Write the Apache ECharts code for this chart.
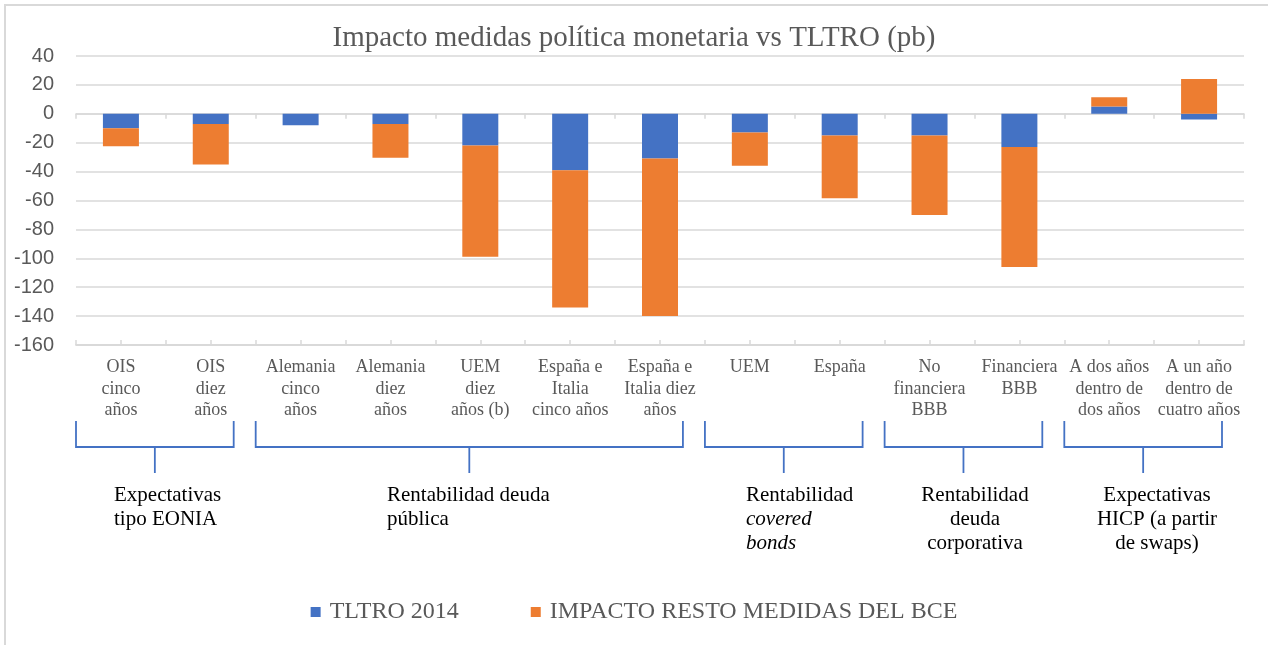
<!DOCTYPE html>
<html>
<head>
<meta charset="utf-8">
<script src="https://cdn.jsdelivr.net/npm/echarts@6/dist/echarts.min.js"></script>
<style>
  html, body { margin: 0; padding: 0; background: #fff; }
  #chart { width: 1268px; height: 645px; }
</style>
</head>
<body>
<div id="chart"></div>
<script>
  const categories = [
    'OIS\ncinco\naños', 'OIS\ndiez\naños', 'Alemania\ncinco\naños', 'Alemania\ndiez\naños',
    'UEM\ndiez\naños (b)', 'España e\nItalia\ncinco años', 'España e\nItalia diez\naños',
    'UEM', 'España', 'No\nfinanciera\nBBB', 'Financiera\nBBB',
    'A dos años\ndentro de\ndos años', 'A un año\ndentro de\ncuatro años'
  ]
  const tltro = [-10, -7, -8, -7, -22, -39, -31, -13, -15, -15, -23, 5, -4]
  const resto = [-12.5, -28, 0, -23.5, -77, -95, -109, -23, -43.5, -55, -83, 6.5, 24]

  const groupLabels = [
    'Expectativas\ntipo EONIA',
    'Rentabilidad deuda\npública',
    'Rentabilidad',
    'Rentabilidad\ndeuda\ncorporativa',
    'Expectativas\nHICP (a partir\nde swaps)'
  ]
  // italic continuation lines of a caption
  const groupLabelsItalic = ['', '', 'covered\nbonds', '', '']
  const groupStart = [0, 2, 7, 9, 11]
  const groupEnd = [1, 6, 8, 10, 12]

  // where the group captions sit (hand placed in the original)
  const captionLayout = [
    { x: 114, align: 'left' },
    { x: 387, align: 'left' },
    { x: 746, align: 'left' },
    { x: 975, align: 'center' },
    { x: 1157, align: 'center' }
  ]

  const BLUE = '#4472C4'
  const ORANGE = '#ED7D31'
  const GRID = '#d9d9d9'
  const SERIF = '"Liberation Serif", "Times New Roman", serif'
  const CAPTION_TOP = 483
  const CAPTION_LINE = 24

  const chart = echarts.init(document.getElementById('chart'))

  // extra category axes sitting on the zero line, only for the tick marks
  const zeroAxis = (inside, centered) => ({
    type: 'category',
    data: categories,
    position: 'bottom',
    axisLine: { show: true, onZero: true, lineStyle: { color: GRID, width: 1.5 } },
    axisTick: { show: true, inside: inside, alignWithLabel: centered, length: 5, lineStyle: { color: GRID, width: 1.5 } },
    axisLabel: { show: false },
    splitLine: { show: false }
  })

  const captionTitles = []
  groupLabels.forEach((label, g) => {
    const base = {
      left: captionLayout[g].x,
      padding: 0,
      textAlign: captionLayout[g].align,
      textStyle: { fontFamily: SERIF, fontSize: 21, fontWeight: 'normal', lineHeight: CAPTION_LINE, color: '#000' }
    }
    captionTitles.push(Object.assign({}, base, { text: label, top: CAPTION_TOP }))
    if (groupLabelsItalic[g]) {
      const lines = label.split('\n').length
      captionTitles.push(Object.assign({}, base, {
        text: groupLabelsItalic[g],
        top: CAPTION_TOP + lines * CAPTION_LINE,
        textStyle: Object.assign({}, base.textStyle, { fontStyle: 'italic' })
      }))
    }
  })

  chart.setOption({
    animation: false,
    title: [
      {
        text: 'Impacto medidas política monetaria vs TLTRO (pb)',
        left: 'center',
        top: 19,
        textStyle: { fontFamily: SERIF, fontSize: 29, fontWeight: 'normal', color: '#595959' }
      }
    ].concat(captionTitles),
    legend: {
      bottom: 16,
      left: 'center',
      itemWidth: 10,
      itemHeight: 10,
      itemGap: 72,
      icon: 'rect',
      textStyle: { fontFamily: SERIF, fontSize: 24, color: '#595959', padding: [0, 0, 0, 4] },
      data: ['TLTRO 2014', 'IMPACTO RESTO MEDIDAS DEL BCE']
    },
    grid: { left: 76, right: 24, top: 56, bottom: 300 },
    xAxis: [
      {
        type: 'category',
        data: categories,
        position: 'bottom',
        axisLine: { show: false, onZero: false },
        axisTick: { show: false },
        axisLabel: {
          interval: 0,
          margin: 12,
          fontFamily: SERIF,
          fontSize: 18,
          lineHeight: 21.5,
          color: '#595959',
          verticalAlign: 'top'
        }
      },
      zeroAxis(false, false),
      zeroAxis(true, false),
      zeroAxis(true, true)
    ],
    yAxis: {
      type: 'value',
      min: -160,
      max: 40,
      interval: 20,
      axisLine: { show: false },
      axisTick: { show: false },
      axisLabel: { fontFamily: '"Liberation Sans", Arial, sans-serif', fontSize: 20, color: '#595959', margin: 22 },
      splitLine: { lineStyle: { color: GRID, width: 1.5 } }
    },
    series: [
      {
        name: 'TLTRO 2014',
        type: 'bar',
        stack: 'total',
        barWidth: 36,
        itemStyle: { color: BLUE },
        data: tltro
      },
      {
        name: 'IMPACTO RESTO MEDIDAS DEL BCE',
        type: 'bar',
        stack: 'total',
        barWidth: 36,
        itemStyle: { color: ORANGE },
        data: resto
      }
    ]
  })

  // group brackets under the category labels
  const band = chart.convertToPixel({ xAxisIndex: 0 }, categories[1]) -
    chart.convertToPixel({ xAxisIndex: 0 }, categories[0])
  const graphics = [{
    type: 'rect',
    shape: { x: 5, y: 5, width: 1400, height: 800 },
    style: { fill: 'none', stroke: GRID, lineWidth: 2 },
    silent: true
  }]
  groupLabels.forEach((label, g) => {
    const x0 = chart.convertToPixel({ xAxisIndex: 0 }, categories[groupStart[g]]) - band / 2
    const x1 = chart.convertToPixel({ xAxisIndex: 0 }, categories[groupEnd[g]]) + band / 2 - 22
    const mid = (x0 + x1) / 2
    graphics.push({
      type: 'polyline',
      shape: { points: [[x0, 421], [x0, 447], [x1, 447], [x1, 421]] },
      style: { stroke: BLUE, lineWidth: 1.8, fill: 'none' },
      silent: true
    })
    graphics.push({
      type: 'line',
      shape: { x1: mid, y1: 447, x2: mid, y2: 473 },
      style: { stroke: BLUE, lineWidth: 1.8 },
      silent: true
    })
  })
  chart.setOption({ graphic: graphics })
</script>
</body>
</html>
